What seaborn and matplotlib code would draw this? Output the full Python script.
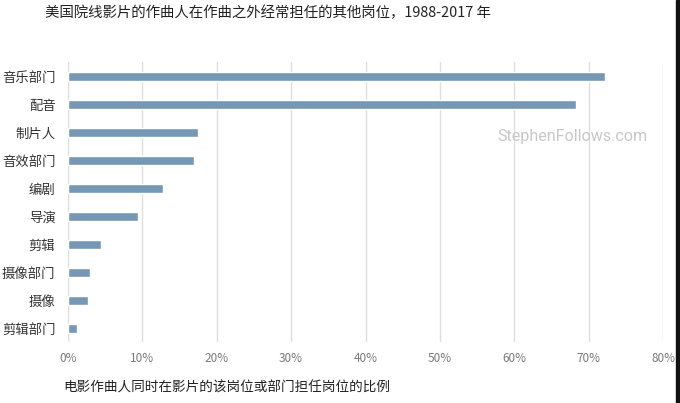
import matplotlib
matplotlib.use("Agg")
import matplotlib.pyplot as plt
import matplotlib.patches as mpatches
import seaborn as sns
import pandas as pd
from matplotlib.ticker import PercentFormatter

# values (share of composers, %)
roles = ["音乐部门", "配音", "制片人", "音效部门", "编剧",
         "导演", "剪辑", "摄像部门", "摄像", "剪辑部门"]
shares = [72.2, 68.3, 17.5, 16.9, 12.8, 9.4, 4.4, 2.9, 2.7, 1.2]
xticks = [0, 10, 20, 30, 40, 50, 60, 70, 80]

df = pd.DataFrame({"role": roles, "share": shares})

sns.set_theme(style="white")
plt.rcParams['font.family'] = ['Noto Sans CJK SC', 'DejaVu Sans']

fig = plt.figure(figsize=(6.8, 4.03), dpi=100)
ax = fig.add_axes([0.1, 0.151, 0.875, 0.695])

sns.barplot(data=df, x="share", y="role", color="#7698b4", saturation=1,
            width=0.32, ax=ax, zorder=3)

ax.set_xlim(0, 80)
ax.set_xticks(xticks)
ax.xaxis.set_major_formatter(PercentFormatter(decimals=0))
ax.grid(axis="x", color="#dedede", linewidth=1, zorder=0)
ax.grid(axis="y", visible=False)
for s in ax.spines.values():
    s.set_visible(False)
ax.tick_params(axis="x", length=0, pad=7, labelsize=8.5, labelcolor="#7a7a7a")
ax.tick_params(axis="y", length=0, pad=9, labelsize=9.6, labelcolor="#333333")
ax.set_xlabel("")
ax.set_ylabel("")

fig.text(45 / 680, 1 - 13 / 403, "美国院线影片的作曲人在作曲之外经常担任的其他岗位，1988-2017 年",
         ha="left", va="center", fontsize=10.4, color="#222222")
fig.text(63 / 680, 1 - 388 / 403, "电影作曲人同时在影片的该岗位或部门担任岗位的比例",
         ha="left", va="center", fontsize=9.8, color="#222222")
fig.text(497 / 680, 1 - 137 / 403, "StephenFollows.com", family="Roboto",
         ha="left", va="center", fontsize=11.6, color="#c8c8c8")

# dark edge on the right side of the reference image
fig.add_artist(mpatches.Rectangle((676 / 680, 0), 4 / 680, 1,
                                  transform=fig.transFigure, color="#111111"))

fig.savefig("out.png", dpi=100)
